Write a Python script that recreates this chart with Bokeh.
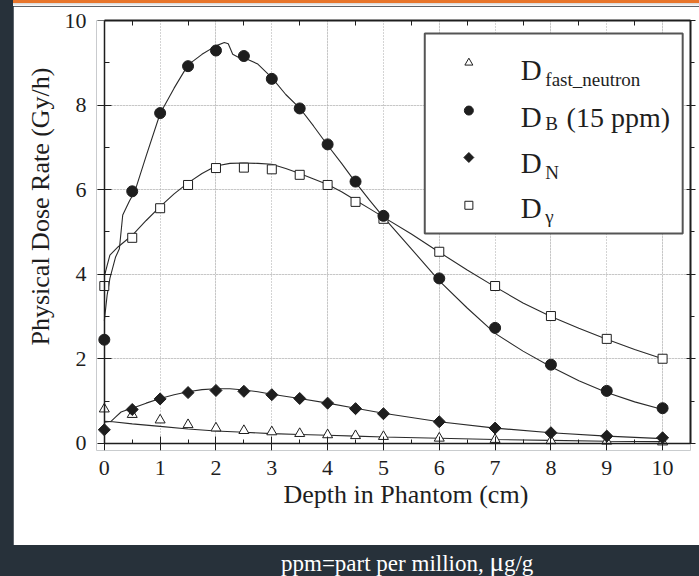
import math
from bokeh.plotting import figure
from bokeh.models import (Range1d, LinearAxis, SingleIntervalTicker, FixedTicker,
                          Label, Div, Spacer, Grid, Title, CustomLabelingPolicy)
from bokeh.layouts import column, row
from bokeh.embed import file_html
from bokeh.resources import INLINE

# ---------------- data ----------------
depth = [0, 0.5, 1, 1.5, 2, 2.5, 3, 3.5, 4, 4.5, 5, 6, 7, 8, 9, 10]
d_fast = [0.81, 0.68, 0.55, 0.44, 0.36, 0.30, 0.27, 0.23, 0.20, 0.18, 0.16, 0.12, 0.09, 0.06, 0.05, 0.03]
d_boron = [2.45, 5.96, 7.81, 8.92, 9.29, 9.16, 8.62, 7.92, 7.07, 6.19, 5.38, 3.90, 2.73, 1.86, 1.24, 0.83]
d_nitrogen = [0.32, 0.80, 1.05, 1.20, 1.25, 1.23, 1.15, 1.06, 0.95, 0.82, 0.70, 0.51, 0.36, 0.25, 0.17, 0.13]
d_gamma = [3.72, 4.86, 5.56, 6.11, 6.51, 6.52, 6.48, 6.35, 6.11, 5.71, 5.31, 4.53, 3.72, 3.01, 2.47, 2.00]

fast_x = [0, 0.15, 0.5, 1, 1.5, 2, 2.5, 3, 3.5, 4, 4.5, 5, 6, 7, 8, 9, 10]
fast_y = [0.52, 0.51, 0.46, 0.40, 0.34, 0.29, 0.26, 0.23, 0.21, 0.19, 0.17, 0.15, 0.12, 0.09, 0.07, 0.05, 0.04]

boron_x = [0, 0.05, 0.1, 0.2, 0.27, 0.33, 0.45, 0.55, 0.75, 1.0, 1.25, 1.5, 1.75, 2.0, 2.15, 2.22,
           2.3, 2.4, 2.5, 2.75, 3.0, 3.25, 3.5, 3.75, 4.0, 4.25, 4.5, 4.75, 5.0, 5.5, 6.0, 6.5,
           7.0, 7.5, 8.0, 8.5, 9.0, 9.5, 10.0]
boron_y = [2.9, 3.5, 3.9, 4.4, 4.6, 5.4, 5.73, 5.97, 6.8, 7.8, 8.4, 8.95, 9.2, 9.4, 9.48, 9.45,
           9.2, 9.13, 9.12, 8.97, 8.65, 8.25, 7.93, 7.5, 7.05, 6.62, 6.17, 5.75, 5.35, 4.6, 3.84, 3.2,
           2.6, 2.18, 1.81, 1.48, 1.2, 0.98, 0.8]

nitro_x = [0, 0.12, 0.2, 0.3, 0.4, 0.5, 0.75, 1, 1.25, 1.5, 1.75, 2, 2.25, 2.5, 2.75, 3, 3.5,
           4, 4.5, 5, 5.5, 6, 7, 8, 9, 10]
nitro_y = [0.50, 0.52, 0.62, 0.74, 0.79, 0.83, 0.95, 1.06, 1.15, 1.22, 1.27, 1.29, 1.29, 1.26,
           1.22, 1.16, 1.06, 0.95, 0.83, 0.71, 0.61, 0.51, 0.36, 0.25, 0.17, 0.11]

gamma_x = [0, 0.05, 0.1, 0.25, 0.5, 0.75, 1.0, 1.25, 1.5, 1.75, 2.0, 2.25, 2.5, 2.75, 3.0, 3.25,
           3.5, 3.75, 4.0, 4.25, 4.5, 4.75, 5.0, 5.5, 6.0, 6.5, 7.0, 7.5, 8.0, 8.5, 9.0, 9.5, 10.0]
gamma_y = [3.95, 4.2, 4.45, 4.65, 4.92, 5.27, 5.6, 5.9, 6.16, 6.38, 6.56, 6.62, 6.63, 6.62, 6.6, 6.5,
           6.38, 6.25, 6.12, 5.95, 5.75, 5.55, 5.35, 4.95, 4.52, 4.1, 3.7, 3.32, 3.0, 2.72, 2.46, 2.22, 2.0]

x_label = "Depth in Phantom (cm)"
y_label = "Physical Dose Rate (Gy/h)"
caption = "ppm=part per million, "

# ---------------- style ----------------
FONT = "Liberation Serif"
DARK = "#27313a"
ORANGE = "#e8762c"
INK = "#1e1e1e"
LINE = "#2a2a2a"

p = figure(width=686, height=539,
           x_range=Range1d(-0.14, 10.5), y_range=Range1d(-0.17, 10.0),
           output_backend="svg", toolbar_location=None,
           x_axis_location=None, y_axis_location=None,
           min_border_left=83, min_border_right=8, min_border_top=14, min_border_bottom=95,
           background_fill_color="white", border_fill_color="white",
           outline_line_color=None)

# grids
xg = Grid(dimension=0, ticker=FixedTicker(ticks=list(range(1, 11))), bounds=(0, 10),
          grid_line_color="#a8a8a8", grid_line_dash="1 2", grid_line_width=1)
yg = Grid(dimension=1, ticker=FixedTicker(ticks=[2, 4, 6, 8]), bounds=(0, 10.5),
          grid_line_color="#a8a8a8", grid_line_dash="1 2", grid_line_width=1)
p.add_layout(xg)
p.add_layout(yg)


def hide_labels(ax):
    ax.major_label_policy = CustomLabelingPolicy(code="return new Set()")
    ax.major_label_text_font_size = "1px"
    ax.major_label_standoff = 0


def only_labels(ax, standoff):
    ax.axis_line_color = None
    ax.major_tick_line_color = None
    ax.minor_tick_line_color = None
    ax.major_tick_in = 0
    ax.major_tick_out = 0
    ax.minor_tick_in = 0
    ax.minor_tick_out = 0
    ax.major_label_text_font = FONT
    ax.major_label_text_font_size = "22px"
    ax.major_label_text_color = INK
    ax.major_label_standoff = standoff


def line_style(ax, width):
    ax.axis_line_color = INK
    ax.axis_line_width = width
    ax.major_tick_line_color = INK
    ax.minor_tick_line_color = INK


# y axis at x = 0 (line + ticks) and its labels at the frame edge
y_line = LinearAxis(ticker=SingleIntervalTicker(interval=2, num_minor_ticks=2),
                    fixed_location=0, bounds=(0, 10))
line_style(y_line, 1.5)
y_line.major_tick_in = 7
y_line.major_tick_out = 7
y_line.minor_tick_in = 5
y_line.minor_tick_out = 0
hide_labels(y_line)
p.add_layout(y_line, "left")

y_lab = LinearAxis(ticker=SingleIntervalTicker(interval=2, num_minor_ticks=2))
only_labels(y_lab, 10)
p.add_layout(y_lab, "left")

x_line = LinearAxis(ticker=SingleIntervalTicker(interval=1, num_minor_ticks=2),
                    fixed_location=0, bounds=(0, 10.5))
line_style(x_line, 1.5)
x_line.major_tick_in = 7
x_line.major_tick_out = 7
x_line.minor_tick_in = 4
x_line.minor_tick_out = 0
hide_labels(x_line)
p.add_layout(x_line, "below")

x_lab = LinearAxis(ticker=SingleIntervalTicker(interval=1, num_minor_ticks=2))
only_labels(x_lab, 10)
p.add_layout(x_lab, "below")

top = LinearAxis(ticker=FixedTicker(ticks=[i + 0.5 for i in range(10)], minor_ticks=[]),
                 bounds=(0, 10.5))
line_style(top, 2)
top.major_tick_in = 5
top.major_tick_out = 0
hide_labels(top)
p.add_layout(top, "above")

right = LinearAxis(ticker=SingleIntervalTicker(interval=2, num_minor_ticks=2), bounds=(0, 10))
line_style(right, 2)
right.major_tick_in = 4
right.major_tick_out = 5
right.minor_tick_in = 0
right.minor_tick_out = 4
hide_labels(right)
p.add_layout(right, "right")

# axis titles
p.add_layout(Title(text=y_label, align="right", offset=47, standoff=14, text_font=FONT,
                   text_font_size="26px", text_font_style="normal", text_color=INK), "left")
p.add_layout(Title(text=x_label, align="left", offset=187, standoff=0, text_font=FONT,
                   text_font_size="26px", text_font_style="normal", text_color=INK), "below")

# curves
for cx, cy in [(fast_x, fast_y), (nitro_x, nitro_y), (gamma_x, gamma_y), (boron_x, boron_y)]:
    p.line(cx, cy, line_color=LINE, line_width=1.1)

# measured points
p.scatter(depth, d_fast, marker="triangle", size=10, fill_color="white", line_color=INK, line_width=1)
p.scatter(depth, d_gamma, marker="square", size=9, fill_color="white", line_color=INK, line_width=1)
p.scatter(depth, d_nitrogen, marker="square", size=8.5, angle=math.pi / 4, fill_color=INK, line_color=INK)
p.scatter(depth, d_boron, marker="circle", size=11, fill_color=INK, line_color=INK)

# legend (manual, for subscripts)
p.quad(left=[5.74], right=[10.36], bottom=[4.96], top=[9.69],
       fill_color="white", line_color="#555555", line_width=2)
lx = 6.53
p.scatter([lx], [9.0], marker="triangle", size=8, fill_color="white", line_color=INK, line_width=1)
p.scatter([lx], [7.87], marker="circle", size=9, fill_color=INK, line_color=INK)
p.scatter([lx], [6.76], marker="square", size=7, angle=math.pi / 4, fill_color=INK, line_color=INK)
p.scatter([lx], [5.63], marker="square", size=8, fill_color="white", line_color=INK, line_width=1)

entries = [
    ("fast_neutron", 8.82, 8.60, ""),
    ("B", 7.71, 7.57, "(15 ppm)"),
    ("N", 6.62, 6.41, ""),
    ("\u03b3", 5.56, 5.36, ""),
]
for sub, yb, ys, extra in entries:
    p.add_layout(Label(x=7.46, y=yb, text="D", text_font=FONT, text_font_size="29px",
                       text_color=INK, text_baseline="alphabetic"))
    p.add_layout(Label(x=7.9, y=ys, text=sub, text_font=FONT, text_font_size="19px",
                       text_color=INK, text_baseline="alphabetic"))
    if extra:
        p.add_layout(Label(x=8.28, y=yb, text=extra, text_font=FONT, text_font_size="28px",
                           text_color=INK, text_baseline="alphabetic"))

# ---------------- page layout ----------------
bar = Div(text="", width=686, height=3, margin=0, styles={"background-color": ORANGE})
shade = Div(text="", width=686, height=3, margin=0,
            styles={"background": "linear-gradient(#d6d6d6, #ffffff)"})
strip = Spacer(width=13, height=545, margin=0)
cap = Div(text=caption + '<span style="font-size:27px">\u03bc</span>g/g', width=699, height=31, margin=0,
          styles={"color": "white", "font-family": FONT, "font-size": "23px",
                  "line-height": "35px", "padding-left": "281px", "overflow": "hidden",
                  "white-space": "nowrap", "box-sizing": "border-box"})
page = column(row(strip, column(bar, shade, p, spacing=0), spacing=0), cap, spacing=0,
              width=699, height=576, styles={"background-color": DARK})

open("out.html", "w").write(file_html(page, INLINE))
